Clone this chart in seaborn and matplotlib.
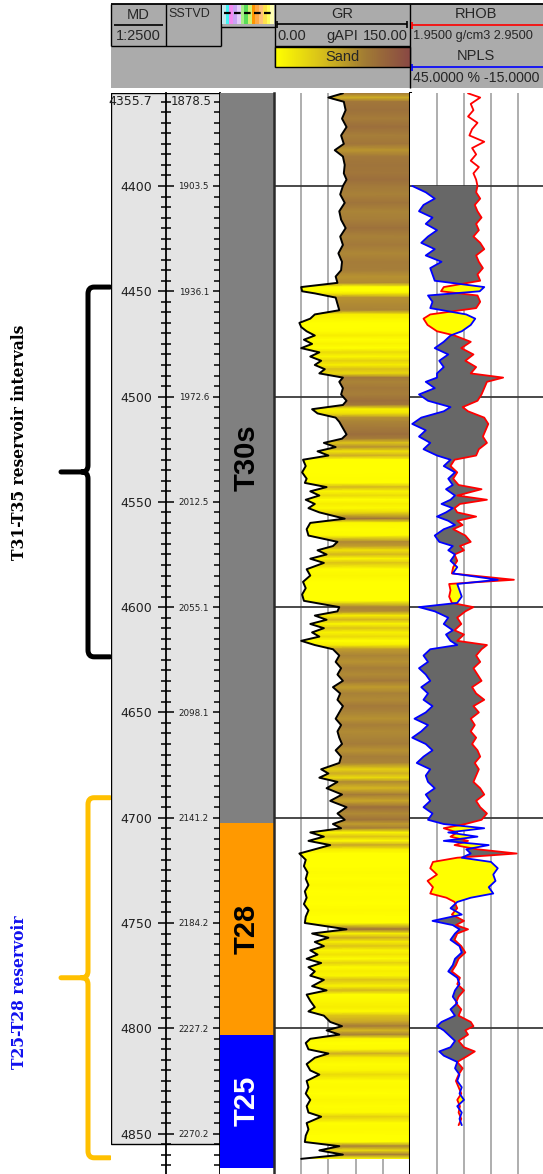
import numpy as np
import pandas as pd
import matplotlib
matplotlib.use("Agg")
import matplotlib.pyplot as plt
import seaborn as sns
from matplotlib.colors import LinearSegmentedColormap, ListedColormap, Normalize
from matplotlib.patches import Rectangle, PathPatch
from matplotlib.path import Path

sns.set_style("white")
plt.rcParams["font.family"] = ["DejaVu Sans"]

# ============================================================
# Values read off the well-log display
# ============================================================
md_top, md_base = 4355.7, 4869.2           # visible MD window (m)
md_major = [4400, 4450, 4500, 4550, 4600, 4650, 4700, 4750, 4800, 4850]
md_minor = [d for d in range(4360, 4870, 5) if d % 50 != 0]
sstvd_major = ["1903.5", "1936.1", "1972.6", "2012.5", "2055.1",
               "2098.1", "2141.2", "2184.2", "2227.2", "2270.2"]
md_top_label, sstvd_top_label = "4355.7", "1878.5"
md_box_base = 4855.0
grid_depths = [4400, 4500, 4600, 4700, 4800]

zone_names = ["T30s", "T28", "T25"]
zone_tops = [4355.7, 4702.5, 4803.1]
zone_bases = [4702.5, 4803.1, 4866.3]
zone_colors = ["#808080", "#FF9900", "#0000FF"]
zone_text_colors = ["black", "black", "white"]

bracket_labels = ["T31-T35 reservoir intervals", "T25-T28 reservoir"]
bracket_tops = [4448.0, 4690.5]
bracket_bases = [4623.6, 4861.5]
bracket_colors = ["black", "#FFC000"]
bracket_text_colors = ["black", "#1010EE"]
bracket_text_depths = [4521.5, 4783.0]

# GR (gAPI)
gr_depth = [4356, 4358, 4360, 4364, 4368, 4372, 4376, 4380, 4383, 4386, 4390, 4394, 4397,
            4400, 4404, 4408, 4412, 4416, 4420, 4424, 4428, 4432, 4436, 4440, 4443, 4446,
            4448, 4450, 4451, 4453, 4456, 4459, 4461, 4463, 4465, 4467, 4469, 4471, 4473,
            4475, 4477, 4479, 4481, 4483, 4485, 4487, 4489, 4491, 4493, 4496, 4499, 4502,
            4504, 4506, 4508, 4510, 4512, 4515, 4518, 4520, 4522, 4524, 4526, 4528, 4530,
            4533, 4536, 4539, 4541, 4543, 4545, 4547, 4549, 4551, 4553, 4555, 4558, 4560,
            4563, 4566, 4569, 4571, 4573, 4575, 4577, 4579, 4582, 4585, 4588, 4591, 4594,
            4597, 4600, 4602, 4604, 4606, 4608, 4610, 4612, 4614, 4616, 4618, 4620, 4623,
            4626, 4629, 4632, 4635, 4638, 4641, 4644, 4647, 4650, 4653, 4656, 4659, 4662,
            4665, 4668, 4671, 4674, 4677, 4679, 4681, 4683, 4686, 4689, 4692, 4695, 4698,
            4701, 4703, 4705, 4707, 4709, 4711, 4713, 4715, 4717, 4720, 4723, 4726, 4729,
            4732, 4735, 4738, 4741, 4744, 4747, 4750, 4753, 4755, 4757, 4759, 4761, 4763,
            4765, 4767, 4769, 4771, 4773, 4775, 4777, 4780, 4782, 4784, 4787, 4790, 4792,
            4794, 4797, 4799, 4801, 4803, 4805, 4807, 4810, 4812, 4814, 4817, 4820, 4822,
            4825, 4828, 4831, 4834, 4837, 4840, 4842, 4845, 4848, 4851, 4854, 4856, 4858,
            4860, 4862]
gr_api = [76, 60, 77, 79, 75, 80, 74, 77, 67, 76, 78, 77, 80,
          76, 73, 78, 72, 74, 79, 73, 76, 71, 75, 74, 68, 70,
          30, 31, 45, 68, 70, 72, 45, 40, 28, 30, 36, 45, 33,
          42, 30, 50, 40, 52, 45, 56, 50, 76, 72, 76, 74, 80,
          76, 42, 48, 68, 72, 76, 80, 75, 55, 68, 48, 60, 32,
          35, 31, 36, 34, 58, 40, 50, 35, 45, 38, 50, 78, 40,
          36, 38, 70, 65, 48, 58, 40, 55, 36, 40, 32, 35, 31,
          33, 72, 70, 45, 58, 40, 55, 42, 50, 30, 45, 65, 72,
          68, 74, 70, 76, 65, 73, 70, 76, 72, 68, 74, 70, 72,
          75, 68, 74, 72, 52, 60, 50, 70, 58, 75, 62, 80, 70,
          78, 65, 74, 40, 55, 38, 62, 45, 28, 35, 33, 37, 35,
          38, 34, 36, 33, 38, 35, 34, 80, 42, 60, 45, 55, 40,
          48, 36, 52, 38, 45, 40, 55, 42, 58, 36, 40, 45, 38,
          55, 62, 75, 58, 72, 40, 35, 38, 60, 45, 36, 40, 50,
          36, 38, 35, 40, 36, 38, 52, 36, 38, 35, 34, 72, 50,
          76, 30]

# RHOB (g/cm3) and NPLS (%), same depth samples; NPLS starts at 4400 m
dens_depth = [4356, 4358, 4361, 4364, 4367, 4370, 4373, 4376, 4379, 4382, 4385, 4388, 4391,
              4394, 4397,
              4400, 4403, 4406, 4409, 4412, 4415, 4418, 4421, 4424, 4427, 4430, 4433, 4436,
              4439, 4442, 4445,
              4448, 4450, 4452, 4455, 4458, 4461, 4463, 4466, 4469, 4471, 4474, 4477, 4480,
              4483, 4486, 4489,
              4491, 4493, 4496, 4499, 4502, 4505, 4507, 4510, 4513, 4516, 4519, 4522, 4525,
              4528,
              4530, 4533, 4536, 4539, 4542, 4544, 4547, 4549, 4551, 4553, 4555, 4557, 4559,
              4561, 4563, 4566, 4569, 4571, 4573, 4575, 4578, 4581, 4584, 4587, 4589, 4592,
              4595, 4598,
              4600, 4602, 4605, 4608, 4611, 4613, 4616, 4618, 4620, 4623, 4626, 4629, 4632,
              4635, 4638, 4641, 4644, 4647, 4650, 4653, 4656, 4659, 4662, 4665, 4668, 4671,
              4674, 4677, 4680, 4683, 4686, 4689, 4692, 4695, 4698, 4701,
              4703, 4705, 4707, 4709, 4711, 4713, 4715, 4717, 4719, 4721, 4724, 4727, 4730,
              4733, 4736,
              4738, 4740, 4743, 4746, 4749, 4751, 4753, 4755, 4758, 4761, 4764, 4767, 4770,
              4773, 4776, 4779, 4782, 4785, 4788, 4791, 4794,
              4797, 4799, 4801, 4803, 4806, 4809, 4811, 4813,
              4816, 4819, 4822, 4825, 4828, 4831, 4834, 4837, 4840, 4843, 4846]
rhob = [2.38, 2.47, 2.40, 2.42, 2.38, 2.45, 2.41, 2.39, 2.50, 2.41, 2.44, 2.40, 2.46,
        2.42, 2.44,
        2.45, 2.44, 2.47, 2.43, 2.45, 2.48, 2.44, 2.46, 2.42, 2.47, 2.50, 2.44, 2.46,
        2.49, 2.45, 2.47,
        2.20, 2.18, 2.45, 2.47, 2.44, 2.10, 2.05, 2.08, 2.15, 2.28, 2.40, 2.33, 2.42,
        2.36, 2.44, 2.40,
        2.64, 2.52, 2.50, 2.48, 2.45, 2.34, 2.38, 2.50, 2.53, 2.51, 2.49, 2.52, 2.46,
        2.44,
        2.28, 2.25, 2.30, 2.27, 2.31, 2.48, 2.30, 2.52, 2.32, 2.28, 2.30, 2.44, 2.30,
        2.34, 2.27, 2.36, 2.40, 2.32, 2.35, 2.28, 2.30, 2.27, 2.26, 2.72, 2.24, 2.25,
        2.24, 2.26,
        2.42, 2.36, 2.30, 2.33, 2.28, 2.35, 2.30, 2.52, 2.48, 2.44, 2.47, 2.42, 2.45,
        2.48, 2.41, 2.44, 2.50, 2.42, 2.46, 2.40, 2.43, 2.40, 2.44, 2.41, 2.45, 2.47,
        2.43, 2.46, 2.44, 2.42, 2.47, 2.50, 2.44, 2.47, 2.52, 2.48,
        2.36, 2.20, 2.30, 2.25, 2.38, 2.28, 2.45, 2.74, 2.30, 2.12, 2.10, 2.15, 2.08,
        2.12, 2.10,
        2.22, 2.28, 2.30, 2.26, 2.35, 2.29, 2.38, 2.30, 2.28, 2.33, 2.36, 2.31, 2.29,
        2.26, 2.32, 2.30, 2.35, 2.31, 2.29, 2.33, 2.31,
        2.40, 2.42, 2.36, 2.38, 2.31, 2.35, 2.43, 2.38,
        2.30, 2.34, 2.31, 2.29, 2.31, 2.33, 2.30, 2.32, 2.31, 2.33, 2.31]
npls = [np.nan] * 15 + [
        44, 38, 34, 39, 41, 35, 38, 33, 37, 40, 34, 38, 31, 36, 35, 34,
        12, 14, 37, 35, 36, 20, 16, 18, 22, 27, 30, 34, 28, 32, 30, 33,
        33, 38, 34, 41, 37, 27, 30, 40, 44, 38, 41, 36, 39, 33,
        27, 30, 25, 28, 26, 29, 25, 27, 31, 26, 29, 33, 28, 25, 30, 34, 32, 26, 28, 25,
        27, 24, 26, 6, 24, 23, 22, 24,
        41, 34, 28, 30, 26, 29, 27, 24, 36, 39, 37, 41, 38, 36, 40, 37, 39, 35, 38, 43,
        37, 40, 44, 38, 35, 39, 42, 36, 38, 37, 34, 38, 36, 39, 35, 37,
        30, 12, 28, 15, 30, 10, 20, 18, 22, 9, 6, 8, 7, 10, 8,
        18, 24, 27, 22, 35, 26, 23, 25, 27, 23, 22, 25, 26, 28, 24, 23, 25, 26, 24, 27, 25,
        31, 33, 30, 28, 25, 27, 32, 30,
        24, 25, 23, 24, 22, 23, 21, 24, 22, 23, 22]

GR_MIN, GR_MAX = 0.0, 150.0
RHOB_MIN, RHOB_MAX = 1.95, 2.95
NPLS_LEFT, NPLS_RIGHT = 45.0, -15.0

strip_colors = ["#C4E6EE", "#40F4F4", "#F488F0", "#C8A4F4", "#E4CCFA", "#A8EE88",
                "#58DC58", "#D4F070", "#FF9400", "#FFA844", "#FFC078", "#FFE24C",
                "#FFFF5C", "#FFFFB4"]

# ============================================================
# Layout helpers (pixel based, 543 x 1174)
# ============================================================
W, H = 543, 1174
TRACK_TOP, TRACK_BOT = 92.7, 1174.0

fig = plt.figure(figsize=(W / 100, H / 100), dpi=100)


def px_axes(x0, x1, y0=TRACK_TOP, y1=TRACK_BOT, **kw):
    return fig.add_axes([x0 / W, 1 - y1 / H, (x1 - x0) / W, (y1 - y0) / H], **kw)


def depth_axes(x0, x1, xlim):
    ax = px_axes(x0, x1)
    ax.set_xlim(*xlim)
    ax.set_ylim(md_base, md_top)
    for s in ax.spines.values():
        s.set_visible(False)
    return ax


# ============================================================
# MD / SSTVD tracks
# ============================================================
bg = depth_axes(111, 220, (0, 1))
bg.axis("off")
bg.add_patch(Rectangle((0, md_top), 1, md_box_base - md_top, facecolor="#E4E4E4",
                       edgecolor="black", lw=1.0))

ax_d = depth_axes(166, 220, (0, 1))
ax_d.patch.set_visible(False)
ax_d.spines["left"].set_visible(True)
ax_d.spines["left"].set_linewidth(1.3)
ax_d.spines["left"].set_color("black")
ax_d.set_xticks([])
ax_d.set_yticks(md_major)
ax_d.set_yticklabels([str(v) for v in md_major], fontsize=9, color="#202020")
ax_d.set_yticks(md_minor, minor=True)
ax_d.tick_params(axis="y", which="major", direction="inout", length=11.5, width=1.1,
                 pad=4.5, color="black", left=True, right=False)
ax_d.tick_params(axis="y", which="minor", direction="inout", length=7.2, width=1.1,
                 color="black", left=True, right=False)

ax_s = ax_d.twinx()
ax_s.set_ylim(md_base, md_top)
for s in ax_s.spines.values():
    s.set_visible(False)
ax_s.spines["right"].set_visible(True)
ax_s.spines["right"].set_linewidth(1.3)
ax_s.spines["right"].set_color("black")
ax_s.set_yticks(md_major)
ax_s.set_yticklabels(sstvd_major, fontsize=6.3, color="#202020")
ax_s.set_yticks(md_minor, minor=True)
ax_s.tick_params(axis="y", which="major", direction="in", length=5.0, width=1.1,
                 pad=-8.0, color="black")
ax_s.tick_params(axis="y", which="minor", direction="in", length=4.0, width=1.1,
                 color="black")
for t in ax_s.get_yticklabels():
    t.set_horizontalalignment("right")

ax_d.annotate(md_top_label, xy=(0, 4360), xycoords=("axes fraction", "data"),
              xytext=(-10, 0), textcoords="offset points", ha="right", va="center",
              fontsize=9, color="#202020")
ax_s.annotate(sstvd_top_label, xy=(1, 4360), xycoords=("axes fraction", "data"),
              xytext=(-6, 0), textcoords="offset points", ha="right", va="center",
              fontsize=8.5, color="#202020")

# ============================================================
# Zone track
# ============================================================
ax_z = depth_axes(220, 274, (0, 1))
ax_z.set_xticks([])
ax_z.set_yticks([])
ax_z.bar(x=0.5, height=np.subtract(zone_bases, zone_tops), bottom=zone_tops, width=1.0,
         color=zone_colors, linewidth=0)
for name, top, base, tc in zip(zone_names, zone_tops, zone_bases, zone_text_colors):
    ax_z.text(0.5, (top + base) / 2, name, rotation=90, ha="center", va="center",
              fontsize=21, fontweight="bold", color=tc, family="Liberation Sans")
ax_z.set_ylim(md_base, md_top)

# ============================================================
# GR track
# ============================================================
gr_df = pd.DataFrame({"depth": gr_depth, "gr": gr_api})
sand_cmap = LinearSegmentedColormap.from_list(
    "sand", [(0.0, "#FFFF00"), (0.22, "#F6EC00"), (0.5, "#CFAE24"),
             (0.75, "#A98238"), (1.0, "#93623E")])
gr_norm = Normalize(35, 85)

ax_gr = depth_axes(274, 410, (GR_MIN, GR_MAX))
ax_gr.set_xticks([30, 60, 90, 120])
ax_gr.set_yticks(grid_depths)
ax_gr.tick_params(length=0, labelbottom=False, labelleft=False)
ax_gr.xaxis.grid(True, color="#A8A8A8", lw=1.3)
ax_gr.yaxis.grid(True, color="#3A3A3A", lw=1.3)
ax_gr.set_axisbelow(True)
ax_gr.spines["left"].set_visible(True)
ax_gr.spines["left"].set_color("#2A2A2A")
ax_gr.spines["left"].set_linewidth(1.8)
ax_gr.spines["right"].set_visible(True)
ax_gr.spines["right"].set_color("black")
ax_gr.spines["right"].set_linewidth(2.2)

shade = ax_gr.fill_betweenx(gr_df["depth"], gr_df["gr"], GR_MAX,
                            facecolor="none", edgecolor="none")
n = len(gr_df)
mesh = ax_gr.pcolormesh(np.column_stack([np.full(n, GR_MIN), np.full(n, GR_MAX)]),
                        np.column_stack([gr_df["depth"], gr_df["depth"]]),
                        np.column_stack([gr_df["gr"], gr_df["gr"]]),
                        cmap=sand_cmap, norm=gr_norm, shading="gouraud", zorder=2)
mesh.set_clip_path(shade.get_paths()[0], ax_gr.transData)
sns.lineplot(data=gr_df, x="gr", y="depth", orient="y", sort=False, estimator=None,
             color="black", linewidth=1.4, ax=ax_gr, zorder=3)
ax_gr.set_xlabel("")
ax_gr.set_ylabel("")
ax_gr.set_xlim(GR_MIN, GR_MAX)
ax_gr.set_ylim(md_base, md_top)

# ============================================================
# RHOB / NPLS track
# ============================================================
dens_df = pd.DataFrame({"depth": dens_depth, "rhob": rhob, "npls": npls})
dens_df["npls_pos"] = RHOB_MIN + (NPLS_LEFT - dens_df["npls"]) / (NPLS_LEFT - NPLS_RIGHT) * (
    RHOB_MAX - RHOB_MIN)
both = dens_df.dropna()

ax_rn = depth_axes(410, 545, (RHOB_MIN, RHOB_MAX))
ax_rn.set_xticks([2.15, 2.35, 2.55, 2.75])
ax_rn.set_yticks(grid_depths)
ax_rn.tick_params(length=0, labelbottom=False, labelleft=False)
ax_rn.xaxis.grid(True, color="#A8A8A8", lw=1.3)
ax_rn.yaxis.grid(True, color="#3A3A3A", lw=1.3)
ax_rn.set_axisbelow(True)

ax_rn.fill_betweenx(both["depth"], both["npls_pos"], both["rhob"],
                    where=both["npls_pos"] <= both["rhob"], interpolate=True,
                    facecolor="#676767", edgecolor="none", zorder=2)
ax_rn.fill_betweenx(both["depth"], both["npls_pos"], both["rhob"],
                    where=both["npls_pos"] > both["rhob"], interpolate=True,
                    facecolor="#FFFF00", edgecolor="none", zorder=2)
sns.lineplot(data=dens_df, x="rhob", y="depth", orient="y", sort=False, estimator=None,
             color="#FF0000", linewidth=1.3, ax=ax_rn, zorder=3)
ax_rn.set_xlabel("")
ax_rn.set_ylabel("")
ax_rn.set_xlim(RHOB_MIN, RHOB_MAX)
ax_rn.set_ylim(md_base, md_top)

ax_np = ax_rn.twiny()
sns.lineplot(data=both, x="npls", y="depth", orient="y", sort=False, estimator=None,
             color="#0000FF", linewidth=1.3, ax=ax_np, zorder=3)
ax_np.set_xlim(NPLS_LEFT, NPLS_RIGHT)
ax_np.set_ylim(md_base, md_top)
ax_np.set_xlabel("")
ax_np.set_ylabel("")
ax_np.set_xticks([])
for s in ax_np.spines.values():
    s.set_visible(False)

# ============================================================
# Reservoir brackets and labels (left margin)
# ============================================================
ax_l = depth_axes(0, 111, (0, 111))
ax_l.axis("off")
XS, XT, XR, RX, RD = 88, 61, 110, 6, 3.2
for top, base, col, lab, tcol, tdep in zip(bracket_tops, bracket_bases, bracket_colors,
                                           bracket_labels, bracket_text_colors,
                                           bracket_text_depths):
    mid = (top + base) / 2
    verts = [(XR, top), (XS + RX, top), (XS, top), (XS, top + RD),
             (XS, mid - RD), (XS, mid), (XS - RX, mid), (XT, mid),
             (XS - RX, mid), (XS, mid), (XS, mid + RD),
             (XS, base - RD), (XS, base), (XS + RX, base), (XR, base)]
    codes = [Path.MOVETO, Path.LINETO, Path.CURVE3, Path.CURVE3,
             Path.LINETO, Path.CURVE3, Path.CURVE3, Path.LINETO,
             Path.MOVETO, Path.CURVE3, Path.CURVE3,
             Path.LINETO, Path.CURVE3, Path.CURVE3, Path.LINETO]
    ax_l.add_patch(PathPatch(Path(verts, codes), facecolor="none", edgecolor=col,
                             lw=3.6, capstyle="round", joinstyle="round"))
    ax_l.text(20, tdep, lab, rotation=90, ha="center", va="center", fontsize=11.2,
              fontweight="bold", color=tcol, family="DejaVu Serif")

# ============================================================
# Header
# ============================================================
hd = fig.add_axes([0, 0, 1, 1], zorder=10)
hd.set_xlim(0, W)
hd.set_ylim(H, 0)
hd.axis("off")
HF = "Liberation Sans"


def hline(xs, ys, c="black", lw=1.0):
    hd.plot(xs, ys, color=c, lw=lw, solid_capstyle="butt")


hd.add_patch(Rectangle((111, 4), W - 111, 84, facecolor="#ABABAB", edgecolor="none"))
hline([111, W], [4, 4], lw=1.3)
for x in (111, 166, 221):
    hline([x, x], [4, 46])
hline([111, 221], [46, 46])
hline([221, 275], [27, 27])
hline([275, 275], [4, 67])
hline([410, 410], [4, 88])
hline([275, 410], [46, 46])

hd.text(138.5, 15, "MD", ha="center", va="center", fontsize=10.5, family=HF)
hline([114, 163], [25, 25], lw=1.2)
hd.text(138.5, 35.5, "1:2500", ha="center", va="center", fontsize=10.5, family=HF)
hd.text(168, 14, "SSTVD", ha="left", va="center", fontsize=9, family=HF)

hd.imshow(np.arange(len(strip_colors))[None, :], cmap=ListedColormap(strip_colors),
          extent=(222, 274, 24, 5), aspect="auto", interpolation="nearest", zorder=2)
hd.plot([224, 272], [13, 13], color="black", lw=1.6, ls=(0, (3, 1.5)), zorder=3)

hd.text(342, 14, "GR", ha="center", va="center", fontsize=10.5, family=HF)
hline([277, 407], [24, 24], lw=1.2)
hline([277, 277], [20.5, 27.5], lw=1.2)
hline([407, 407], [20.5, 27.5], lw=1.2)
hd.text(277, 36, "0.00", ha="left", va="center", fontsize=10.5, family=HF)
hd.text(342, 36, "gAPI", ha="center", va="center", fontsize=10.5, family=HF)
hd.text(408, 36, "150.00", ha="right", va="center", fontsize=10.5, family=HF)
sand_bar = LinearSegmentedColormap.from_list(
    "sandbar", ["#FFFF00", "#D9C21A", "#A27C34", "#8A4A44"])
hd.imshow(np.linspace(0, 1, 64)[None, :], cmap=sand_bar, extent=(275, 410, 67, 47),
          aspect="auto", zorder=2)
hd.add_patch(Rectangle((275, 47), 135, 20, facecolor="none", edgecolor="black", lw=1.0,
                       zorder=3))
hd.text(342.5, 57, "Sand", ha="center", va="center", fontsize=10.5, family=HF, zorder=4)

hd.text(476, 14, "RHOB", ha="center", va="center", fontsize=10.5, family=HF)
hline([412, W], [25, 25], c="#FF0000", lw=1.2)
hline([412, 412], [21.5, 28.5], c="#FF0000", lw=1.2)
hd.text(413, 36, "1.9500 g/cm3 2.9500", ha="left", va="center", fontsize=9.2, family=HF)
hd.text(476, 56, "NPLS", ha="center", va="center", fontsize=10.5, family=HF)
hline([412, W], [67, 67], c="#0000FF", lw=1.2)
hline([412, 412], [63.5, 70.5], c="#0000FF", lw=1.2)
hd.text(413, 78, "45.0000 % -15.0000", ha="left", va="center", fontsize=10.2, family=HF)

fig.savefig("out.png", dpi=100)
